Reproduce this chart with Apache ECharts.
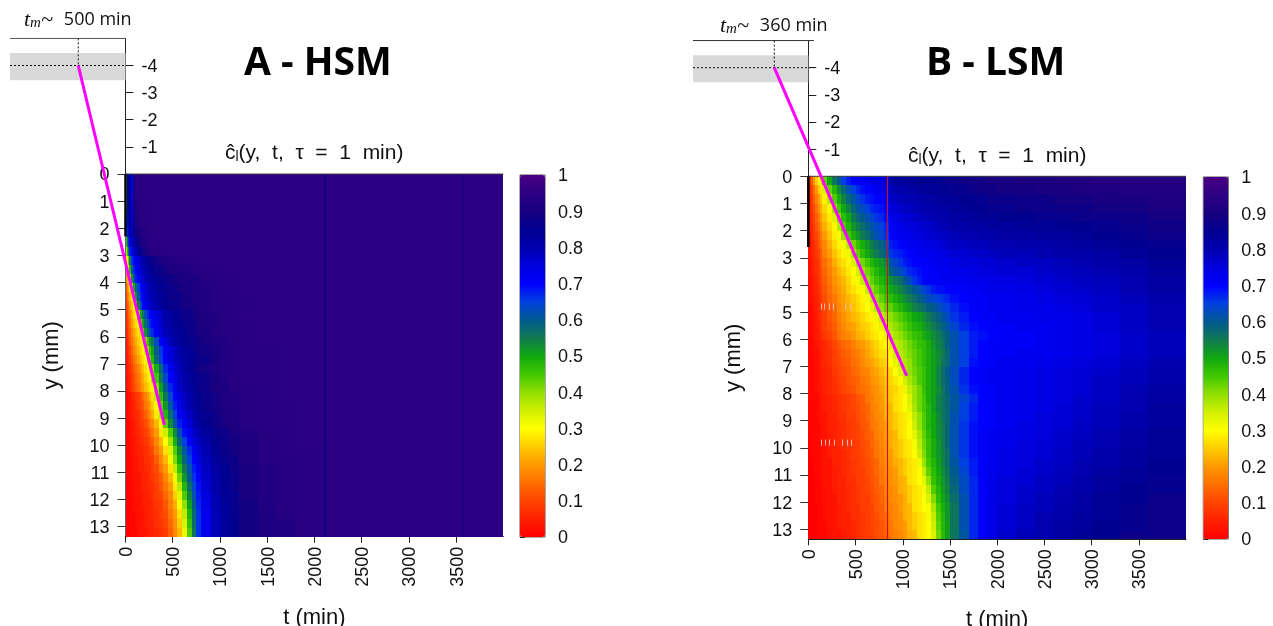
<!DOCTYPE html>
<html>
<head>
<meta charset="utf-8">
<style>html,body{margin:0;padding:0;background:#fff}#main{width:1273px;height:626px}</style>
<script src="https://cdn.jsdelivr.net/npm/echarts@6/dist/echarts.min.js"></script>
</head>
<body>
<div id="main"></div>
<script>
// time bin edges (min) of the two maps, rows are 40 equal slices of the 13.37 mm height
var hsmEdges = [0,10,20,30,40,60,80,100,125,150,175,200,225,250,275,300,350,400,450,500,550,600,650,700,750,800,900,1000,1100,1200,1400,1600,1800,2100,2120,2500,3000,3560,3580,4000];
var lsmEdges = [0,25,50,75,100,125,150,200,250,300,350,400,450,500,550,600,650,700,750,800,850,900,950,1000,1050,1100,1150,1200,1250,1300,1350,1400,1450,1500,1600,1700,1800,1900,2000,2200,2400,2600,2800,3000,3300,3600,4000];

// c in percent, one line per row from y = 0 down
var hsmRows = [
[48,42,82,86,85,72,92,93,94,94,94,95,95,95,95,95,95,95,95,95,95,95,95,95,95,95,95,95,95,95,95,95,95],
[48,42,82,86,85,72,92,93,94,94,94,95,95,95,95,95,95,95,95,95,95,95,95,95,95,95,95,95,95,95,95,95,95],
[47,44,81,85,85,73,91,93,93,94,94,95,95,95,95,95,95,95,95,95,95,95,95,95,95,95,95,95,95,95,95,95,95],
[46,46,80,84,85,73,90,92,93,94,94,94,95,95,95,95,95,95,95,95,95,95,95,95,95,95,95,95,95,95,95,95,95],
[46,50,76,81,84,75,88,92,93,93,94,94,95,95,95,95,95,95,95,95,95,95,95,95,95,95,95,95,95,95,95,95,95],
[46,55,72,78,84,77,86,91,92,93,94,94,94,95,95,95,95,95,95,95,95,95,95,95,95,95,95,95,95,95,95,95,95],
[46,58,68,74,82,79,84,89,91,92,93,93,94,94,95,95,95,95,95,95,95,95,95,95,95,95,95,95,95,95,95,95,95],
[34,47,58,67,75,78,81,85,88,90,91,92,93,93,94,95,95,95,95,95,95,95,95,95,95,95,95,95,95,95,95,95,95],
[28,38,47,57,68,73,77,81,84,87,89,90,91,92,93,93,94,94,95,95,95,95,95,95,95,95,95,95,95,95,95,95,95],
[22,27,32,42,55,66,70,73,76,79,81,83,85,86,87,89,90,91,92,93,93,94,94,94,94,95,95,95,95,95,95,95,95],
[18,23,27,33,48,60,67,71,74,77,79,81,83,84,85,87,88,89,90,91,91,92,92,93,93,94,94,95,95,95,95,95,95],
[14,19,24,29,38,52,62,68,72,75,77,79,81,82,83,85,86,87,88,89,90,90,91,91,92,93,93,94,94,95,95,95,95],
[10,14,18,22,27,38,50,58,65,71,74,76,78,80,81,83,85,86,87,88,89,90,90,91,91,92,93,94,94,95,95,95,95],
[8,11,15,18,23,29,41,52,61,68,72,75,77,79,80,82,84,85,87,88,88,89,90,90,91,92,93,93,94,95,95,95,95],
[6,9,12,15,20,25,30,43,55,63,70,73,75,77,79,81,83,85,86,87,88,89,89,90,91,92,93,93,94,94,95,95,95],
[5,7,10,13,17,22,27,30,40,50,56,62,67,70,72,75,78,81,83,85,86,87,88,89,90,91,92,93,94,95,95,95,95],
[4,6,8,11,15,20,24,27,32,42,50,57,62,67,70,73,77,80,82,84,85,86,87,88,89,91,92,93,93,94,95,95,95],
[3,5,7,10,13,18,21,24,27,34,44,52,58,63,67,72,76,79,81,83,84,85,87,88,89,90,92,93,93,94,95,95,95],
[3,4,6,8,12,16,19,22,25,28,34,40,46,52,56,63,70,75,79,82,83,85,86,87,88,90,91,92,93,94,95,95,95],
[2,4,5,7,10,14,17,20,23,26,29,34,40,46,51,59,66,72,75,78,81,83,84,86,87,89,90,92,93,94,94,95,95],
[2,3,5,6,9,12,15,18,21,24,27,31,37,43,48,57,65,71,75,78,80,82,84,85,87,88,90,92,93,94,94,95,95],
[1,2,4,5,7,10,13,15,18,21,24,27,30,36,41,49,58,67,72,76,79,82,84,86,87,89,91,92,93,94,94,95,95],
[1,2,3,5,6,9,11,14,16,19,22,25,28,31,37,45,55,64,70,74,78,81,83,85,86,88,90,92,93,94,94,95,95],
[1,2,3,4,6,8,10,13,15,18,20,23,25,28,31,40,51,60,67,73,77,80,82,84,86,88,90,91,93,93,94,95,95],
[1,1,1,3,3,5,6,8,9,11,14,17,20,23,27,36,47,56,64,70,75,78,81,83,85,87,89,91,92,93,94,95,95],
[1,1,1,2,3,4,5,7,9,10,12,16,18,20,25,31,43,52,61,68,73,77,80,82,84,87,89,91,92,93,94,94,95],
[1,1,1,2,3,4,5,6,7,9,11,13,16,18,22,28,38,48,57,65,71,75,78,81,83,86,88,90,91,93,94,94,95],
[0,1,1,1,3,3,4,5,7,8,9,11,13,16,18,23,31,43,53,61,68,72,76,79,82,85,88,90,91,93,94,94,95],
[0,1,1,1,2,3,4,5,6,7,8,9,11,13,16,20,28,35,44,53,62,69,73,77,80,83,86,88,90,92,93,94,95],
[0,0,1,1,2,3,3,4,5,6,7,8,9,11,13,18,23,30,39,49,58,65,71,75,78,81,85,87,89,91,93,94,95],
[0,0,1,1,2,3,3,4,5,5,6,7,8,9,11,16,20,27,34,44,53,61,67,72,76,80,84,87,89,91,93,94,94],
[0,0,1,1,1,2,3,3,4,5,5,7,7,8,9,13,18,23,31,41,50,58,65,70,74,79,83,86,88,91,93,93,94],
[0,0,1,1,1,2,3,3,4,5,5,6,7,7,9,11,16,20,27,36,46,55,62,68,72,78,82,85,88,90,92,93,94],
[0,0,0,1,1,2,2,3,3,4,5,5,6,7,8,10,13,18,23,31,42,52,60,66,70,77,81,85,87,90,92,93,94],
[0,0,0,1,1,1,2,3,3,4,5,5,6,7,7,9,12,16,20,28,37,48,57,64,69,76,81,84,87,90,92,93,94],
[0,0,0,1,1,1,2,3,3,3,4,5,5,6,7,9,10,14,18,25,33,44,54,62,68,75,80,84,86,90,92,93,94],
[0,0,0,0,1,1,2,2,3,3,4,5,5,5,6,8,9,12,17,22,30,40,51,60,67,74,80,83,86,89,92,93,94],
[0,0,0,0,1,1,1,2,3,3,3,4,5,5,6,7,9,11,16,20,27,36,48,58,66,73,79,83,86,89,91,93,94],
[0,0,0,0,1,1,1,2,2,3,3,4,5,5,5,7,8,10,14,19,25,34,46,57,66,73,79,83,85,89,91,92,94],
[0,0,0,0,1,1,1,1,2,3,3,3,4,5,5,6,7,9,13,18,23,32,44,56,66,73,79,83,85,89,91,92,94]
];
// last six HSM bins, the same on every row
var hsmTail = [88,95,95,95,91,95];

var lsmRows = [
[8,13,20,25,30,34,43,50,56,60,65,68,70,71,72,73,74,74,75,76,82,83,83,84,84,84,85,85,85,85,86,86,87,87,88,89,89,90,90,91,91,92,92,93,93,93],
[6,10,15,20,25,28,34,43,48,53,58,62,65,67,69,70,71,72,73,74,79,80,81,81,82,82,83,83,84,84,84,85,85,86,86,87,88,88,89,89,90,90,91,91,92,92],
[5,9,13,17,21,24,29,37,44,49,54,58,61,64,66,68,69,70,71,72,77,78,79,79,80,80,81,81,82,82,83,83,84,84,85,85,86,87,87,88,88,89,89,90,90,91],
[5,8,11,15,19,22,26,31,39,45,50,54,58,61,63,65,67,68,69,71,75,76,77,78,78,79,80,80,81,81,82,82,82,83,84,85,85,86,86,87,87,88,88,89,89,90],
[4,7,10,13,17,20,24,28,34,41,47,50,55,58,60,62,64,66,67,69,73,74,75,76,76,77,78,79,79,80,80,81,81,82,83,83,84,84,85,85,86,86,87,87,88,89],
[4,6,9,12,15,18,22,26,29,37,44,48,52,55,57,59,62,63,65,67,71,72,73,74,75,75,76,77,77,78,79,79,80,81,81,82,82,83,83,84,84,85,85,86,87,88],
[3,6,8,10,13,16,20,24,28,31,39,45,49,52,55,57,60,62,64,66,70,71,72,72,73,74,75,75,76,77,77,78,78,79,80,80,81,81,82,82,83,83,84,85,86,87],
[3,5,7,9,12,14,18,22,26,29,31,37,42,46,49,52,55,57,59,62,68,69,70,71,72,72,73,74,74,75,75,76,77,78,78,79,79,80,80,81,81,82,83,84,85,86],
[3,5,6,8,10,13,17,20,24,27,29,32,38,43,47,50,53,55,58,60,66,67,68,69,70,71,72,72,73,73,74,74,75,76,76,77,77,78,79,79,80,81,81,82,84,85],
[2,4,6,7,9,12,15,18,22,25,27,29,34,38,42,45,48,50,52,54,62,64,66,68,69,70,70,71,71,72,72,73,73,74,75,75,76,76,77,78,78,79,80,81,82,84],
[2,4,5,7,8,11,14,17,20,23,25,28,30,35,39,42,45,48,50,52,59,61,63,65,67,68,69,70,70,71,71,72,72,73,73,74,75,75,76,76,77,78,79,80,81,83],
[2,3,5,6,8,10,13,16,19,21,23,26,29,31,36,40,43,46,48,50,53,55,57,60,63,66,68,70,71,71,71,72,72,72,72,73,73,74,74,75,76,77,78,79,80,82],
[2,3,4,6,7,9,12,15,18,20,22,25,27,29,31,36,40,43,46,48,50,52,54,56,58,60,62,64,66,68,69,69,70,70,71,71,72,73,73,74,75,76,77,78,80,82],
[2,3,4,5,7,8,11,14,16,19,21,23,25,27,29,31,36,40,43,46,47,49,51,53,55,57,59,61,63,64,65,66,67,69,70,71,71,72,72,73,74,75,76,77,79,81],
[1,2,3,5,6,8,10,13,15,18,20,22,24,26,28,30,33,37,40,43,43,46,48,50,52,54,56,57,59,60,62,64,65,67,69,71,71,72,72,73,73,74,75,77,78,80],
[1,2,3,4,6,7,9,12,14,17,19,21,23,24,26,28,29,32,36,39,40,42,44,46,48,50,51,53,55,57,59,61,63,66,68,70,71,71,72,72,73,73,74,76,78,80],
[1,2,3,4,5,7,9,11,13,16,18,20,21,23,25,26,28,29,33,36,38,40,42,44,46,48,49,51,53,55,57,59,61,64,67,69,70,71,71,72,72,73,74,76,78,80],
[1,2,3,4,5,6,8,10,12,15,17,18,20,22,23,25,27,28,30,33,36,38,40,42,44,46,47,49,51,53,55,57,59,62,65,68,69,70,71,71,72,73,74,75,77,79],
[1,1,2,3,4,5,6,8,10,12,14,15,17,19,20,22,24,26,28,30,34,36,38,40,42,44,46,47,49,52,54,56,59,62,65,68,70,71,71,71,72,73,74,75,77,79],
[1,1,2,2,3,5,6,7,9,11,13,14,16,17,19,21,23,25,27,28,31,35,37,39,41,43,45,47,49,51,53,55,58,62,65,68,70,71,71,72,72,73,74,75,77,79],
[1,1,2,2,3,4,6,7,9,10,12,13,15,16,18,20,21,23,25,27,30,33,36,38,40,43,45,47,49,51,53,56,58,62,65,69,70,71,72,72,73,74,75,76,78,80],
[1,1,1,2,3,4,5,6,8,9,11,12,14,15,17,18,20,21,23,25,27,30,34,37,40,42,44,46,49,51,54,57,60,63,67,70,71,72,72,73,74,75,76,77,79,81],
[1,1,1,2,3,4,5,6,7,9,10,12,13,14,16,17,19,20,22,24,26,28,31,35,38,41,44,46,49,51,54,57,59,63,67,70,71,72,72,73,74,75,76,78,79,81],
[1,1,1,2,3,3,5,6,7,8,10,11,12,14,15,16,18,19,21,23,25,26,28,32,36,39,42,46,49,51,53,56,59,62,66,69,70,71,72,73,74,75,76,78,80,82],
[1,1,1,1,2,3,4,5,6,7,8,9,10,12,13,16,17,19,20,23,25,27,28,30,34,39,42,45,49,51,54,56,58,61,64,67,70,71,72,73,74,75,77,78,80,82],
[1,1,1,1,2,3,4,5,6,7,8,9,10,11,13,14,17,18,20,22,23,27,28,30,33,38,42,45,48,51,54,56,58,61,65,68,70,71,72,73,74,76,77,79,80,83],
[1,1,1,1,2,3,3,5,5,7,7,9,9,11,12,14,16,18,19,22,23,25,27,28,31,36,40,44,48,50,53,56,58,62,65,68,70,71,72,73,75,76,77,79,81,83],
[1,1,1,1,1,3,3,5,5,6,7,8,9,10,12,13,16,17,19,20,23,25,27,28,30,35,40,44,48,50,53,55,58,62,66,69,70,71,72,74,75,76,78,79,81,83],
[0,1,1,1,1,2,3,4,5,6,7,8,9,10,11,13,14,17,18,20,22,23,27,28,30,33,38,43,47,50,53,55,58,62,66,69,71,72,73,74,75,77,78,80,82,84],
[0,1,1,1,1,2,3,4,5,6,7,8,9,9,11,12,14,16,18,19,22,23,25,27,28,31,37,42,46,49,52,55,58,62,66,69,71,72,73,75,76,77,79,80,82,84],
[0,1,1,1,1,2,3,4,5,5,6,7,9,9,10,12,13,16,17,19,20,23,25,27,28,30,35,41,46,49,52,54,57,62,66,69,71,72,74,75,76,78,79,81,83,84],
[0,0,1,1,1,2,3,3,5,5,6,7,8,9,10,11,13,14,17,18,20,22,23,25,27,28,32,39,45,48,51,54,57,61,65,68,71,72,74,75,77,78,80,81,83,85],
[0,0,1,1,1,2,3,3,4,5,6,7,8,9,9,11,12,14,16,18,19,20,23,25,27,28,30,36,43,47,50,53,56,60,64,68,71,73,74,76,77,79,80,82,84,85],
[0,0,0,1,1,1,3,3,4,5,5,7,7,9,9,10,12,13,16,17,19,20,22,23,27,28,30,33,40,46,49,52,55,59,63,67,71,73,75,76,78,79,81,83,84,86],
[0,0,0,1,1,1,2,3,4,5,5,6,7,8,9,10,11,13,14,17,18,19,22,23,25,27,28,31,36,44,48,51,54,58,63,67,71,73,75,77,78,80,81,83,85,86],
[0,0,0,1,1,1,2,3,3,5,5,6,7,8,9,9,11,12,14,16,18,19,20,22,25,27,28,30,34,41,47,50,53,57,62,67,71,74,75,77,79,80,82,84,85,87],
[0,0,0,0,1,1,2,3,3,4,5,6,7,7,9,9,10,12,13,16,17,18,20,22,23,27,28,30,31,38,45,49,52,56,62,67,71,74,76,78,79,81,82,84,86,87],
[0,0,0,0,1,1,2,3,3,4,5,5,7,7,8,9,10,11,13,14,17,18,19,22,23,25,27,28,31,36,44,48,52,56,62,67,71,74,76,78,80,81,83,84,86,87],
[0,0,0,0,1,1,1,3,3,4,5,5,6,7,8,9,10,11,12,14,16,18,19,20,23,25,27,28,30,35,43,48,51,56,62,67,71,74,76,78,80,82,83,85,86,87],
[0,0,0,0,1,1,1,2,3,3,4,5,6,7,8,9,9,11,12,13,16,17,18,20,22,23,27,28,30,34,42,47,51,56,61,67,71,74,77,79,80,82,84,85,87,87]
];
// pale dropouts in the LSM map: [t, row]
var lsmBlanks = [[130,14],[170,14],[220,14],[265,14],[388,14],[441,14],[138,29],[180,29],[222,29],[268,29],[360,29],[406,29],[448,29]];

// magenta guide lines [t, y]
var hsmFront = [[-500,-4],[411,9.25]];
var lsmFront = [[-360,-4],[1042,7.35]];

var xTicks = [0,500,1000,1500,2000,2500,3000,3500];
var xMinor = [250,750,1250,1750,2250,2750,3250,3750];
var yTicks = [0,1,2,3,4,5,6,7,8,9,10,11,12,13];
var yTopTicks = [-4,-3,-2,-1];
var barColors = ['#ff0000','#ff2000','#ff4400','#ff6e00','#ff9900','#ffcc00','#ffff00','#d0f000','#90e000','#40c800','#10a810','#107a50','#005a90','#0040e0','#0000ff','#0000dd','#0000b0','#000090','#180080','#2d0082','#4b0082'];

var yMax = 13.37, tMax = 4000, pxPerMin = 0.09445;
var FONT = '"Liberation Sans"';
var grids = [], xAxes = [], yAxes = [], series = [], maps = [];

// tick text goes through a rich style so it can sit a little lower, as in the original
var tickRich = {a: {fontFamily: FONT, fontSize: 18, color: '#111', padding: [3, 0, 0, 0]}};
function tickText(v) { return '{a|' + (+(+v).toFixed(1)) + '}'; }

function cells(edges, rows, tail) {
    var out = [];
    rows.forEach(function (row, i) {
        var vals = tail ? row.concat(tail) : row;
        vals.forEach(function (v, j) {
            out.push([edges[j], edges[j + 1], i * yMax / rows.length, (i + 1) * yMax / rows.length, v / 100]);
        });
    });
    return out;
}

function renderCell(params, api) {
    var a = api.coord([api.value(0), api.value(2)]);
    var b = api.coord([api.value(1), api.value(3)]);
    var x0 = Math.round(a[0]), y0 = Math.round(a[1]);
    return {
        type: 'rect',
        shape: {x: x0, y: y0, width: Math.round(b[0]) - x0, height: Math.round(b[1]) - y0},
        style: {fill: api.visual('color')}
    };
}

function addGrid(box) {
    box.outerBoundsMode = 'none';
    box.containLabel = false;
    grids.push(box);
    return grids.length - 1;
}

function overlayLine(g, data, style, z) {
    series.push({
        type: 'line', xAxisIndex: g.x, yAxisIndex: g.y, data: data, symbol: 'none', silent: true,
        lineStyle: style, z: z || 6, animation: false
    });
}

function panel(p) {
    var tLeft = (p.stripLeft - p.left) / pxPerMin;
    var plotW = tMax * pxPerMin, plotH = p.bottom - p.top;
    var perMm = plotH / yMax;
    var labelStyle = {formatter: tickText, rich: tickRich, hideOverlap: false};

    // heat map axes
    var gi = addGrid({left: p.left, top: p.top, width: plotW, height: plotH});
    var xi = xAxes.length, yi = yAxes.length;
    xAxes.push({
        type: 'value', gridIndex: gi, position: 'bottom', min: 0, max: tMax,
        name: 't (min)', nameLocation: 'middle', nameGap: p.xNameGap,
        nameTextStyle: {fontFamily: FONT, fontSize: 22, color: '#111'},
        splitLine: {show: false},
        axisLine: {onZero: false, lineStyle: {color: '#222', width: 1}},
        axisTick: {length: 6, customValues: xTicks, lineStyle: {color: '#222'}},
        axisLabel: Object.assign({rotate: 90, margin: 10, customValues: xTicks}, labelStyle)
    });
    xAxes.push({
        type: 'value', gridIndex: gi, position: 'bottom', min: 0, max: tMax,
        splitLine: {show: false},
        axisLine: {show: false},
        axisTick: {length: 3, customValues: xMinor, lineStyle: {color: '#222'}},
        axisLabel: {show: false}
    });
    yAxes.push({
        type: 'value', gridIndex: gi, inverse: true, min: 0, max: yMax,
        name: 'y (mm)', nameLocation: 'middle', nameGap: 63, nameRotate: 90,
        nameTextStyle: {fontFamily: FONT, fontSize: 22, color: '#111'},
        splitLine: {show: false},
        axisLine: {onZero: false, lineStyle: {color: '#333', width: 1.5}},
        axisTick: {length: 8, customValues: yTicks, lineStyle: {color: '#333'}},
        axisLabel: Object.assign({margin: 16, customValues: yTicks}, labelStyle)
    });
    series.push({
        type: 'custom', xAxisIndex: xi, yAxisIndex: yi, data: cells(p.edges, p.rows, p.tail),
        renderItem: renderCell, encode: {x: [0, 1], y: [2, 3]}, silent: true, animation: false, z: 2
    });
    var heatIndex = series.length - 1;

    // overlay reaching left of t = 0 and above y = 0, for the guides
    addGrid({left: p.stripLeft, top: p.top - 5 * perMm, width: p.left + plotW - p.stripLeft, height: plotH + 5 * perMm});
    var ov = {x: xAxes.length, y: yAxes.length};
    xAxes.push({type: 'value', gridIndex: grids.length - 1, show: false, min: tLeft, max: tMax});
    yAxes.push({type: 'value', gridIndex: grids.length - 1, show: false, inverse: true, min: -5, max: yMax});

    series.push({
        type: 'line', xAxisIndex: ov.x, yAxisIndex: ov.y, data: [], silent: true, z: 1,
        markArea: {silent: true, itemStyle: {color: '#d9d9d9'}, data: [[{coord: [tLeft, -4.46]}, {coord: [0, -3.46]}]]}
    });
    overlayLine(ov, [[tLeft, -5], [p.topEnd, -5]], {color: p.ruleColor, width: 1});
    overlayLine(ov, [[tLeft, -4], [60, -4]], {color: '#111', width: 1, type: [2, 2]});
    overlayLine(ov, [[p.front[0][0], -5], [p.front[0][0], -4]], {color: '#111', width: 1, type: [2, 2]});
    overlayLine(ov, [[0, 0], [tMax, 0]], {color: '#444', width: 1});
    overlayLine(ov, [[0, 0], [0, p.blackTo]], {color: '#000', width: 2.5});
    overlayLine(ov, p.front, {color: '#ff00ff', width: 3}, 8);
    if (p.streak) {
        overlayLine(ov, [[p.streak, 0], [p.streak, yMax]], {color: '#d41010', width: 1});
    }
    if (p.blanks) {
        series.push({
            type: 'custom', xAxisIndex: ov.x, yAxisIndex: ov.y, data: p.blanks, silent: true, z: 5, animation: false,
            encode: {x: 0, y: 1},
            renderItem: function (params, api) {
                var row = api.value(1);
                var a = api.coord([api.value(0), row * yMax / 40]);
                var b = api.coord([api.value(0), (row + 0.7) * yMax / 40]);
                return {type: 'rect', shape: {x: Math.round(a[0]), y: a[1], width: 1, height: b[1] - a[1]}, style: {fill: '#ffb8aa'}};
            }
        });
    }

    // small depth axis above the map
    var topGrid = addGrid({left: p.left, top: p.top - 5 * perMm, width: 20, height: 5 * perMm});
    xAxes.push({type: 'value', gridIndex: topGrid, show: false, min: 0, max: 1});
    yAxes.push({
        type: 'value', gridIndex: topGrid, inverse: true, min: -5, max: 0,
        splitLine: {show: false},
        axisLine: {onZero: false, lineStyle: {color: '#222', width: 1}},
        axisTick: {inside: true, length: 8, customValues: yTopTicks, lineStyle: {color: '#222'}},
        axisLabel: Object.assign({inside: true, margin: 16, customValues: yTopTicks}, labelStyle)
    });

    // colour bar scale
    var barGrid = addGrid({left: p.barLeft, top: p.barTop, width: 25, height: 362, show: true, borderColor: '#555', borderWidth: 1});
    xAxes.push({type: 'value', gridIndex: barGrid, show: false, min: 0, max: 1});
    yAxes.push({
        type: 'value', gridIndex: barGrid, position: 'right', min: 0, max: 1, interval: 0.1,
        splitLine: {show: false},
        axisLine: {show: false},
        axisTick: {length: 5, lineStyle: {color: '#222'}},
        axisLabel: Object.assign({margin: 13}, labelStyle)
    });
    maps.push({
        type: 'continuous', min: 0, max: 1, seriesIndex: heatIndex, dimension: 4, calculable: false, hoverLink: false,
        left: p.barLeft, top: p.barTop, itemWidth: 25, itemHeight: 362, padding: 0, text: null, showLabel: false,
        indicatorIcon: 'none', handleIcon: 'none', indicatorSize: 0, handleSize: 0,
        inRange: {color: barColors}
    });
}

panel({
    left: 125.5, top: 174, bottom: 536.7, stripLeft: 10, edges: hsmEdges, rows: hsmRows, tail: hsmTail,
    front: hsmFront, topEnd: 0, ruleColor: '#444', blackTo: 2.3, xNameGap: 70, barLeft: 520, barTop: 175
});
panel({
    left: 808.3, top: 176.3, bottom: 539.3, stripLeft: 693, edges: lsmEdges, rows: lsmRows,
    front: lsmFront, topEnd: 60, ruleColor: '#333', blackTo: 2.6, xNameGap: 70, barLeft: 1203.3, barTop: 177,
    streak: 838.5, blanks: lsmBlanks
});

var headRich = {
    sub: {fontFamily: FONT, fontSize: 14, fontWeight: 'normal', color: '#111', verticalAlign: 'bottom', padding: [8, 0, 0, 0]},
    b: {fontFamily: FONT, fontSize: 21, fontWeight: 'normal', color: '#111'}
};
var tmRich = {
    it: {fontFamily: '"Liberation Serif"', fontStyle: 'italic', fontWeight: 'normal', fontSize: 22, color: '#111'},
    m: {fontFamily: '"Liberation Serif"', fontStyle: 'italic', fontWeight: 'normal', fontSize: 15, color: '#111', padding: [6, 0, 0, 0]},
    n: {fontFamily: '"Open Sans"', fontWeight: 'normal', fontSize: 18, color: '#111'}
};
function bigTitle(text, x, y) {
    return {text: text, left: x, top: y, padding: 0, textStyle: {fontFamily: '"Open Sans"', fontWeight: 'bold', fontSize: 39, color: '#000'}};
}
function headTitle(x, y) {
    return {text: '{b|ĉ}{sub|l}{b|(y,  t,  τ  =  1  min)}', left: x, top: y, padding: 0, textStyle: {rich: headRich}};
}
function tmTitle(x, y, val) {
    return {text: '{it|t}{m|m}{it|~  }{n|' + val + ' min}', left: x, top: y, padding: 0, textStyle: {rich: tmRich}};
}

var chart = echarts.init(document.getElementById('main'));
chart.setOption({
    animation: false,
    title: [
        bigTitle('A - HSM', 244, 44), bigTitle('B - LSM', 926, 44),
        headTitle(225, 142), headTitle(908, 145),
        tmTitle(24, 9, 500), tmTitle(720, 15, 360)
    ],
    grid: grids,
    xAxis: xAxes,
    yAxis: yAxes,
    visualMap: maps,
    series: series
});
</script>
</body>
</html>
